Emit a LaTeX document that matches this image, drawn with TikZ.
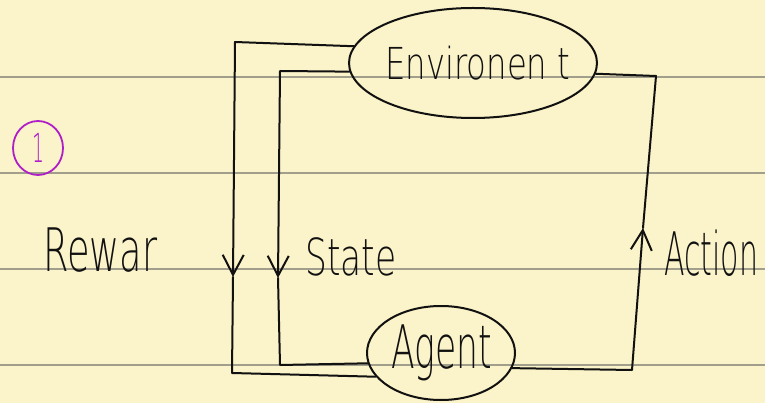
\documentclass[tikz,border=0pt]{standalone}
\usepackage{fontspec}
\setmainfont{DejaVu Sans ExtraLight}
\usetikzlibrary{shapes.geometric,arrows.meta}
\definecolor{paper}{HTML}{FBF3C9}
\definecolor{rulecol}{HTML}{A29E8C}
\definecolor{ink}{HTML}{111111}
\definecolor{pen}{HTML}{B01EC8}
\newcommand\hwtext[3]{\resizebox{#2}{\height}{\fontsize{#1}{#1}\selectfont #3}}
\begin{document}
\begin{tikzpicture}[x=1pt,y=-1pt,
  wire/.style={draw=ink, line width=2pt, line join=round, line cap=round},
  vhead/.style={-{Straight Barb[length=20pt,width=21pt]}},
  blob/.style={ellipse, draw=ink, line width=2pt, inner sep=0pt},
  label/.style={anchor=base west, inner sep=0pt, text=ink}]
\fill[paper] (0,0) rectangle (765,403);
\useasboundingbox (0,0) rectangle (765,403);
\foreach \yy in {77,173,269,365} \draw[rulecol, line width=1.2pt] (0,\yy) -- (765,\yy);

\node[blob, minimum width=248pt, minimum height=110pt] (env) at (473,63) {};
\node[blob, minimum width=148pt, minimum height=94pt] (agent) at (441,353) {};

\node[label] (envtext) at (385,80) {\hwtext{44pt}{185pt}{Environen t}};
\node[label] (agenttext) at (391,368) {\hwtext{60pt}{101pt}{Agent}};
\node[label] (statetext) at (305,275) {\hwtext{51pt}{91pt}{State}};
\node[label] (actiontext) at (664,275) {\hwtext{60pt}{94pt}{Action}};
\node[label] (rewardtext) at (43,272) {\hwtext{60pt}{114pt}{Rewar}};

\node[ellipse, draw=pen, line width=1.8pt, minimum width=50pt, minimum height=54pt, inner sep=0pt, text=pen] (one) at (38,148) {\hwtext{40pt}{12pt}{1}};

\coordinate (rtip) at (233,277);
\coordinate (stip) at (278,278);
\coordinate (atip) at (643,228);

% Reward loop
\draw[wire, vhead] (env.172) -- (235,42) -- (rtip);
\draw[wire] (rtip) -- (232,373) -- (agent.200);
% State loop
\draw[wire, vhead] (env.184) -- (280,71) -- (stip);
\draw[wire] (stip) -- (280,365) -- (agent.188);
% Action loop
\draw[wire, vhead] (agent.348) -- (632,370) -- (atip);
\draw[wire] (atip) -- (656,76) -- (env.355);
\end{tikzpicture}
\end{document}
